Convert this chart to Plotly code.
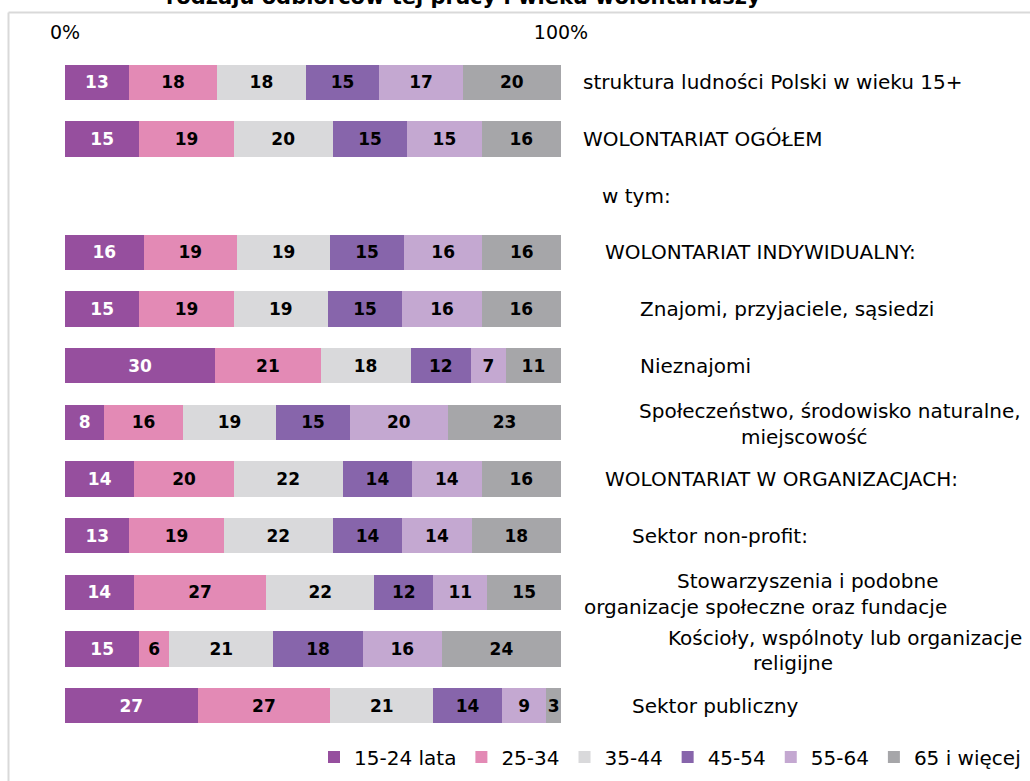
import plotly.graph_objects as go

# ---------------- data ----------------
categories = [
    "struktura ludności Polski w wieku 15+",
    "WOLONTARIAT OGÓŁEM",
    "w tym:",
    "WOLONTARIAT INDYWIDUALNY:",
    "Znajomi, przyjaciele, sąsiedzi",
    "Nieznajomi",
    "Społeczeństwo, środowisko naturalne, miejscowość",
    "WOLONTARIAT W ORGANIZACJACH:",
    "Sektor non-profit:",
    "Stowarzyszenia i podobne organizacje społeczne oraz fundacje",
    "Kościoły, wspólnoty lub organizacje religijne",
    "Sektor publiczny",
]
series_names = ["15-24 lata", "25-34", "35-44", "45-54", "55-64", "65 i więcej"]
age_15_24 = [13, 15, None, 16, 15, 30, 8, 14, 13, 14, 15, 27]
age_25_34 = [18, 19, None, 19, 19, 21, 16, 20, 19, 27, 6, 27]
age_35_44 = [18, 20, None, 19, 19, 18, 19, 22, 22, 22, 21, 21]
age_45_54 = [15, 15, None, 15, 15, 12, 15, 14, 14, 12, 18, 14]
age_55_64 = [17, 15, None, 16, 16, 7, 20, 14, 14, 11, 16, 9]
age_65_plus = [20, 16, None, 16, 16, 11, 23, 16, 18, 15, 24, 3]
tick_values = [0, 100]
tick_labels = ["0%", "100%"]
title_text = "rodzaju odbiorców tej pracy i wieku wolontariuszy"

# ---------------- style ----------------
colors = ["#964F9E", "#E38AB5", "#D9D9DB", "#8765AB", "#C4A8D1", "#A6A6A9"]
text_colors = ["white", "black", "black", "black", "black", "black"]
FONT = "DejaVu Sans, Verdana, sans-serif"
W, H = 1030, 781
L, R, T, B = 65, 469, 54, 47
PW, PH = W - L - R, H - T - B


def px_x(px):
    return (px - L) / PW


def px_y(py):
    return (H - B - py) / PH


# right-hand labels: (category index, line text, left x in px, vertical shift px)
label_lines = [
    (0, "struktura ludności Polski w wieku 15+", 581, 0),
    (1, "WOLONTARIAT OGÓŁEM", 581, 0),
    (2, "w tym:", 600, 0),
    (3, "WOLONTARIAT INDYWIDUALNY:", 603, 0),
    (4, "Znajomi, przyjaciele, sąsiedzi", 638, 0),
    (5, "Nieznajomi", 638, 0),
    (6, "Społeczeństwo, środowisko naturalne,", 637, 11),
    (6, "miejscowość", 739, -15),
    (7, "WOLONTARIAT W ORGANIZACJACH:", 603, 0),
    (8, "Sektor non-profit:", 630, 0),
    (9, "Stowarzyszenia i podobne", 675, 11),
    (9, "organizacje społeczne oraz fundacje", 582, -15),
    (10, "Kościoły, wspólnoty lub organizacje", 666, 11),
    (10, "religijne", 751, -14),
    (11, "Sektor publiczny", 630, 0),
]

all_series = [age_15_24, age_25_34, age_35_44, age_45_54, age_55_64, age_65_plus]

fig = go.Figure()
for name, vals, col, tcol in zip(series_names, all_series, colors, text_colors):
    fig.add_trace(go.Bar(
        name=name,
        y=categories,
        x=vals,
        orientation="h",
        marker=dict(color=col, line=dict(width=0)),
        text=[str(v) if v is not None else "" for v in vals],
        textposition="inside",
        insidetextanchor="middle",
        textangle=0,
        textfont=dict(family=FONT, size=17, color=tcol, weight="bold"),
        hoverinfo="skip",
    ))

annotations = []
for idx, txt, xpx, shift in label_lines:
    annotations.append(dict(
        x=px_x(xpx), xref="paper", xanchor="left",
        y=categories[idx], yref="y", yanchor="middle", yshift=shift,
        text=txt, showarrow=False,
        font=dict(family=FONT, size=20, color="#000000"),
    ))
annotations.append(dict(
    x=px_x(463), xref="paper", xanchor="center",
    y=px_y(11), yref="paper", yanchor="bottom",
    text="<b>" + title_text + "</b>", showarrow=False,
    font=dict(family=FONT, size=21, color="#000000"),
))

shapes = [
    dict(type="line", xref="paper", yref="paper",
         x0=px_x(8.5), x1=px_x(8.5), y0=px_y(12.5), y1=px_y(800),
         line=dict(color="#D9D9D9", width=2)),
    dict(type="line", xref="paper", yref="paper",
         x0=px_x(8.5), x1=px_x(1040), y0=px_y(12.5), y1=px_y(12.5),
         line=dict(color="#D9D9D9", width=2)),
]

fig.update_layout(
    width=W, height=H,
    margin=dict(l=L, r=R, t=T, b=B, pad=0, autoexpand=False),
    barmode="stack",
    barnorm="percent",
    bargap=0.375,
    plot_bgcolor="white",
    paper_bgcolor="white",
    uniformtext=dict(minsize=17, mode="show"),
    showlegend=True,
    legend=dict(
        orientation="h",
        x=px_x(1026), xanchor="right",
        y=px_y(757), yanchor="middle",
        font=dict(family=FONT, size=20, color="#000000"),
        itemwidth=30,
        traceorder="normal",
        bgcolor="rgba(0,0,0,0)",
    ),
    xaxis=dict(
        range=[0, 100],
        side="top",
        tickvals=tick_values,
        ticktext=tick_labels,
        showgrid=True,
        gridcolor="#D9D9D9",
        gridwidth=1,
        zeroline=False,
        showline=False,
        ticks="",
        ticklabelstandoff=10,
        tickfont=dict(family=FONT, size=19, color="#000000"),
        fixedrange=True,
    ),
    yaxis=dict(
        autorange="reversed",
        showticklabels=False,
        showgrid=False,
        zeroline=False,
        showline=False,
        ticks="",
        fixedrange=True,
    ),
    annotations=annotations,
    shapes=shapes,
)

fig.write_html(
    "out.html",
    config={"displayModeBar": False},
    post_script="document.body.style.margin='0px';document.body.style.overflow='hidden';",
)
